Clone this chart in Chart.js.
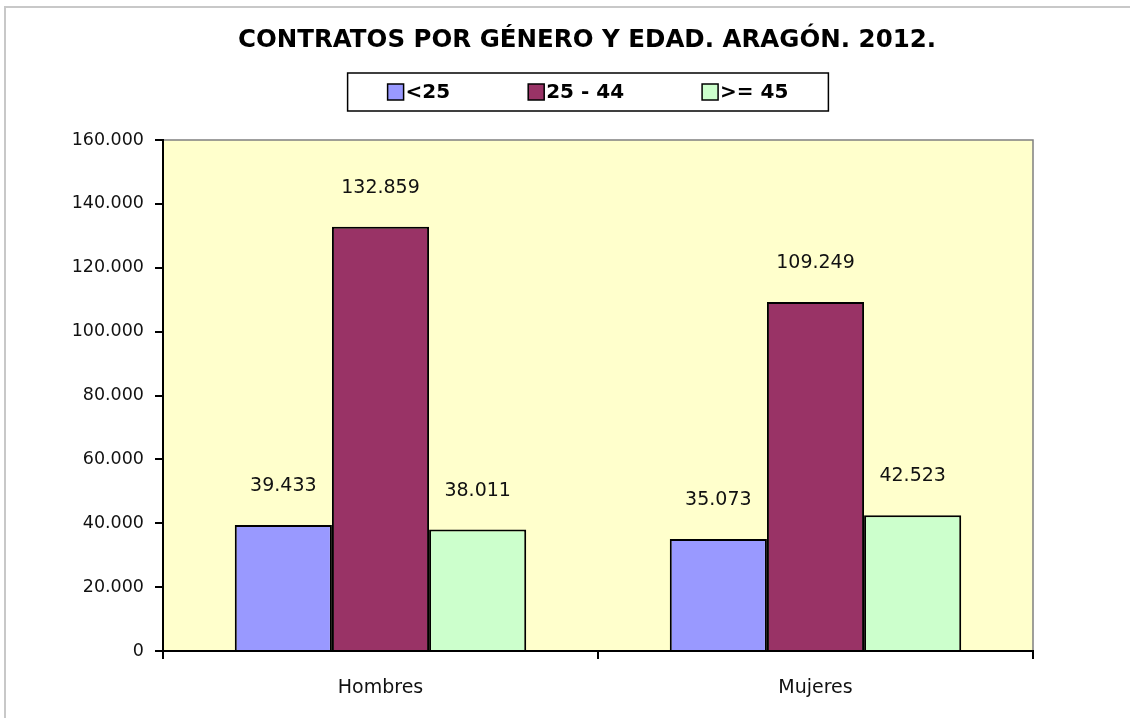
<!DOCTYPE html>
<html>
<head>
<meta charset="utf-8">
<script src="https://cdn.jsdelivr.net/npm/chart.js@4.4.0/dist/chart.umd.min.js"></script>
<style>
  html, body { margin: 0; padding: 0; background: #fff; }
</style>
</head>
<body>
<canvas id="chart" width="1130" height="718"></canvas>
<script>
// Datos
const chartTitle = 'CONTRATOS POR GÉNERO Y EDAD. ARAGÓN. 2012.';
const categories = ['Hombres', 'Mujeres'];
const seriesLabels = ['<25', '25 - 44', '>= 45'];
const menos25 = [39433, 35073];
const de25a44 = [132859, 109249];
const mas45 = [38011, 42523];
const yTicks = [0, 20000, 40000, 60000, 80000, 100000, 120000, 140000, 160000];

const colors = ['#9999FF', '#993366', '#CCFFCC'];
const FONT = '"DejaVu Sans", Verdana, sans-serif';

// 132859 -> "132.859"
function fmt(n) {
    return String(n).replace(/\B(?=(\d{3})+(?!\d))/g, '.');
}

// fondo, borde exterior y area de trazado
const framePlugin = {
    id: 'frame',
    beforeDraw(chart) {
        const ctx = chart.ctx;
        const a = chart.chartArea;
        ctx.save();
        ctx.fillStyle = '#fff';
        ctx.fillRect(0, 0, chart.width, chart.height);
        ctx.strokeStyle = '#c8c8c8';
        ctx.lineWidth = 2;
        ctx.strokeRect(5, 7, chart.width + 20, chart.height + 20);
        ctx.fillStyle = '#FFFFCC';
        ctx.fillRect(a.left, a.top, a.right - a.left, a.bottom - a.top);
        ctx.strokeStyle = '#808080';
        ctx.lineWidth = 1.5;
        ctx.beginPath();
        ctx.moveTo(a.left, a.top);
        ctx.lineTo(a.right, a.top);
        ctx.lineTo(a.right, a.bottom);
        ctx.stroke();
        ctx.restore();
    }
};

// etiquetas de valor encima de cada barra
const valueLabels = {
    id: 'valueLabels',
    afterDatasetsDraw(chart) {
        const ctx = chart.ctx;
        ctx.save();
        ctx.font = '19px ' + FONT;
        ctx.fillStyle = '#111';
        ctx.textAlign = 'center';
        ctx.textBaseline = 'alphabetic';
        chart.data.datasets.forEach((ds, i) => {
            chart.getDatasetMeta(i).data.forEach((bar, j) => {
                ctx.fillText(fmt(ds.data[j]), bar.x, bar.y - 34);
            });
        });
        ctx.restore();
    }
};

// titulo y leyenda con recuadro
const titleLegend = {
    id: 'titleLegend',
    afterDraw(chart) {
        const ctx = chart.ctx;
        const cx = 587;
        ctx.save();
        ctx.fillStyle = '#000';
        ctx.font = 'bold 24.5px ' + FONT;
        ctx.textAlign = 'center';
        ctx.textBaseline = 'middle';
        ctx.fillText(chartTitle, cx, 41);

        ctx.font = 'bold 20px ' + FONT;
        const sq = 16, gapText = 2, gapItem = 78, pad = 40;
        const widths = seriesLabels.map(l => sq + gapText + ctx.measureText(l).width);
        const total = widths.reduce((s, w) => s + w, 0) + gapItem * (widths.length - 1);
        const boxLeft = cx + 1 - total / 2 - pad;
        const boxTop = 73, boxH = 38, midY = boxTop + boxH / 2;
        ctx.strokeStyle = '#000';
        ctx.lineWidth = 1.5;
        ctx.strokeRect(boxLeft, boxTop, total + pad * 2, boxH);

        let x = boxLeft + pad;
        ctx.textAlign = 'left';
        seriesLabels.forEach((l, i) => {
            ctx.fillStyle = colors[i];
            ctx.fillRect(x, midY - sq / 2, sq, sq);
            ctx.lineWidth = 1.5;
            ctx.strokeRect(x, midY - sq / 2, sq, sq);
            ctx.fillStyle = '#000';
            ctx.fillText(l, x + sq + gapText, midY + 1);
            x += widths[i] + gapItem;
        });
        ctx.restore();
    }
};

const seriesData = [menos25, de25a44, mas45];

new Chart(document.getElementById('chart'), {
    type: 'bar',
    data: {
        labels: categories,
        datasets: seriesLabels.map((label, i) => ({
            label: label,
            data: seriesData[i],
            backgroundColor: colors[i],
            borderColor: '#000',
            borderWidth: 2,
            categoryPercentage: 0.67,
            barPercentage: 1.0
        }))
    },
    options: {
        responsive: false,
        animation: false,
        devicePixelRatio: 1,
        layout: { padding: { top: 140, right: 97, bottom: 0, left: 0 } },
        plugins: {
            legend: { display: false },
            title: { display: false },
            tooltip: { enabled: false }
        },
        scales: {
            x: {
                grid: { drawOnChartArea: false, color: '#000', lineWidth: 2, tickLength: 8 },
                border: { color: '#000', width: 2 },
                ticks: { color: '#111', font: { family: FONT, size: 19 }, padding: 18 },
                afterFit(scale) { scale.height = 67; }
            },
            y: {
                min: yTicks[0],
                max: yTicks[yTicks.length - 1],
                afterBuildTicks(scale) { scale.ticks = yTicks.map(v => ({ value: v })); },
                grid: { drawOnChartArea: false, color: '#000', lineWidth: 2, tickLength: 8 },
                border: { color: '#000', width: 2 },
                ticks: {
                    color: '#111',
                    font: { family: FONT, size: 17.5 },
                    padding: 11,
                    callback: v => fmt(v)
                },
                afterFit(scale) { scale.width = 163; }
            }
        }
    },
    plugins: [framePlugin, valueLabels, titleLegend]
});
</script>
</body>
</html>
